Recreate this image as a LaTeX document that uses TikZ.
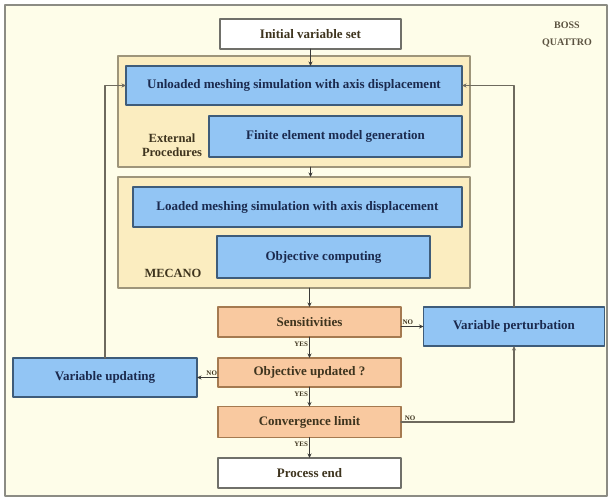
\documentclass[tikz,border=0pt]{standalone}
\usepackage{fontspec}
\setmainfont{Liberation Serif}
\usetikzlibrary{positioning,arrows.meta}

\begin{document}
\begin{tikzpicture}[
		x=1pt,y=-1pt,
		>={Stealth[length=4.5pt,width=4pt]},
		line cap=round,line join=round,
		font=\bfseries\fontsize{13}{14}\selectfont
		]
		% ---- colors
		\definecolor{bgCream}{RGB}{254,253,233}
		\definecolor{frameGray}{RGB}{140,140,132}
		\definecolor{contFill}{RGB}{251,237,192}
		\definecolor{contEdge}{RGB}{158,149,122}
		\definecolor{blueFill}{RGB}{146,197,244}
		\definecolor{blueEdge}{RGB}{62,92,122}
		\definecolor{orangeFill}{RGB}{249,201,160}
		\definecolor{orangeEdge}{RGB}{165,122,80}
		\definecolor{textNavy}{RGB}{27,42,78}
		\definecolor{textBrown}{RGB}{62,52,30}
		\definecolor{lineDark}{RGB}{58,58,56}
		\definecolor{loopGray}{RGB}{110,106,94}
		
		% ---- styles
		\tikzset{
			basebox/.style={rectangle, inner sep=0pt, outer sep=0pt, align=center},
			contbox/.style={basebox, draw=contEdge, fill=contFill, line width=2pt},
			bluebox/.style={basebox, draw=blueEdge, fill=blueFill, line width=1.4pt, text=textNavy},
			orangebox/.style={basebox, draw=orangeEdge, fill=orangeFill, line width=1.4pt, text=textBrown},
			whitebox/.style={basebox, draw=frameGray!80!black, fill=white, line width=1.4pt, text=textBrown},
			contlabel/.style={text=textBrown, align=center, font=\bfseries\fontsize{12.5}{14}\selectfont},
			flow/.style={draw=lineDark, ->, line width=1pt},
			loop/.style={draw=loopGray, ->, line width=1.3pt},
			answer/.style={font=\bfseries\fontsize{7}{7}\selectfont, text=textBrown, inner sep=1pt}
		}
		
		% ---- frame
		\useasboundingbox (0,0) rectangle (610,499);
		\draw[frameGray, fill=bgCream, line width=2.5pt] (5,5) rectangle (607,496);
		\node[align=center, text=textBrown!85, font=\bfseries\fontsize{10}{17}\selectfont] (boss) at (567,34) {BOSS\\QUATTRO};
		
		% ---- containers
		\node[contbox, minimum width=352pt, minimum height=111pt] (extbox) at (294,111.5) {};
		\node[contbox, minimum width=352pt, minimum height=111pt] (mecbox) at (294,232.5) {};
		\node[contlabel] (extlbl) at (172,145) {External\\Procedures};
		\node[contlabel] (meclbl) at (173,273) {MECANO};
		
		% ---- main column
		\node[whitebox, minimum width=181pt, minimum height=30pt] (init) at (310.5,34) {Initial variable set};
		\node[bluebox, minimum width=336pt, minimum height=39pt] (unl) at (294,85.5) {Unloaded meshing simulation with axis displacement};
		\node[bluebox, minimum width=253pt, minimum height=41pt] (fem) at (335.5,136.5) {Finite element model generation};
		\node[bluebox, minimum width=329pt, minimum height=40pt] (load) at (297.5,207) {Loaded meshing simulation with axis displacement};
		\node[bluebox, minimum width=213pt, minimum height=42pt] (objc) at (323.5,257) {Objective computing};
		
		\node[orangebox, minimum width=183pt, minimum height=30pt] (sens) at (309.5,322) {Sensitivities};
		\node[orangebox, minimum width=183pt, minimum height=29pt] (objupd) at (309.5,372.5) {Objective updated ?};
		\node[orangebox, minimum width=183pt, minimum height=31pt] (conv) at (309.5,422) {Convergence limit};
		\node[whitebox, minimum width=183pt, minimum height=30pt] (pend) at (309.5,473) {Process end};
		
		% ---- side boxes
		\node[bluebox, minimum width=181pt, minimum height=39pt] (vpert) at (514,326.5) {Variable perturbation};
		\node[bluebox, minimum width=184pt, minimum height=39pt] (vupd) at (105,377.5) {Variable updating};
		
		% ---- vertical flow
		\draw[flow] (init.south) -- (init.south |- unl.north);
		\draw[flow] (init.south |- extbox.south) -- (init.south |- mecbox.north);
		\draw[flow] (sens.north |- mecbox.south) -- (sens.north);
		\draw[flow] (sens.south) -- node[answer, left, pos=0.35] {YES} (objupd.north);
		\draw[flow] (objupd.south) -- node[answer, left, pos=0.35] {YES} (conv.north);
		\draw[flow] (conv.south) -- node[answer, left, pos=0.35] {YES} (pend.north);
		
		% ---- NO branches
		\draw[flow] (sens.east |- vpert.west) -- node[answer, above, pos=0.3] {NO} (vpert.west);
		\draw[flow] (objupd.west |- vupd.east) -- node[answer, above, pos=0.3] {NO} (vupd.east);
		\draw[loop] (conv.east) -- node[answer, above, pos=0.08] {NO} (conv.east -| vpert.south) -- (vpert.south);
		
		% ---- loops back to the unloaded simulation
		\draw[loop] (vpert.north) -- (vpert.north |- unl.east) -- (unl.east);
		\draw[loop] (vupd.north) -- (vupd.north |- unl.west) -- (unl.west);
		
	\end{tikzpicture}
\end{document}
